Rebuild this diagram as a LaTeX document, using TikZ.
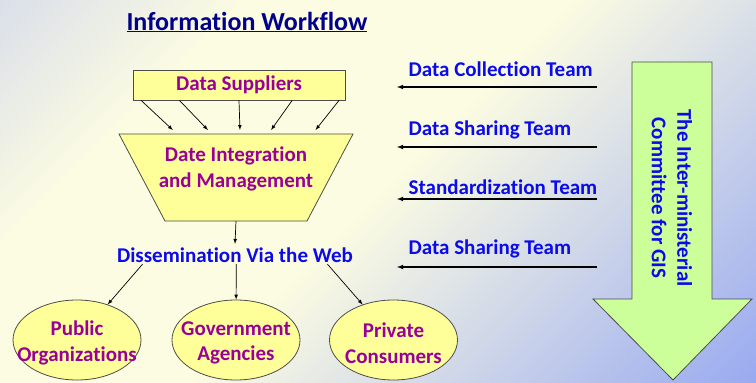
\documentclass[tikz,border=0pt]{standalone}
\usepackage{fontspec}
\setmainfont{Carlito}[Ligatures=NoCommon]
\usetikzlibrary{shapes.geometric,calc}
\definecolor{bgtl}{RGB}{186,196,242}
\definecolor{bgmid}{RGB}{252,252,226}
\definecolor{bgbr}{RGB}{112,136,246}
\definecolor{boxyel}{RGB}{255,255,153}
\definecolor{arrgreen}{RGB}{204,255,153}
\definecolor{txtpurp}{RGB}{153,0,153}
\definecolor{txtblue}{RGB}{10,10,235}
\definecolor{titleblue}{RGB}{0,0,140}
\pgfdeclarehorizontalshading{slidebg}{100bp}{color(0bp)=(bgtl); color(30bp)=(bgmid); color(50bp)=(bgmid); color(100bp)=(bgbr)}
\tikzset{
  box/.style={draw=black!70, fill=boxyel, line width=0.8pt},
  purp/.style={text=txtpurp, font=\fontsize{21}{25.5}\selectfont\bfseries, align=center},
  team/.style={text=txtblue, font=\fontsize{21}{25.5}\selectfont\bfseries},
  org/.style={box, ellipse, minimum width=128pt, minimum height=80pt, inner sep=0pt}
}
\begin{document}
\begin{tikzpicture}[>=latex, line width=0.7pt]
  \useasboundingbox (0,0) rectangle (756pt,-383pt);
  \fill[shading=slidebg, shading angle=-45] (0,0) rectangle (756pt,-383pt);
  % title
  \draw (247pt, -22pt)node[text=titleblue, font=\fontsize{26}{30}\selectfont\bfseries](title){\underline{Information Workflow}};
  % suppliers and funnel
  \draw (239pt, -85pt)node[box, purp, minimum width=212pt, minimum height=30pt, inner sep=0pt](ds){Data Suppliers};
  \draw[box] (119pt,-134pt) coordinate (tl) -- (353pt,-134pt) coordinate (tr)
    -- (307pt,-221pt) coordinate (br) -- (165pt,-221pt) coordinate (bl) -- cycle;
  \draw (236pt, -169pt)node[purp](dim){Date Integration\\and Management};
  \foreach \a/\b in {0.04/0.23, 0.22/0.38, 0.5/0.517, 0.75/0.65, 0.97/0.84}
    \draw[->] ($(ds.south west)!\a!(ds.south east)$) -- ($(tl)!\b!(tr)+(0,4pt)$);
  % web
  \draw (235pt, -255pt)node[team](web){Dissemination Via the Web};
  \draw[->] ($(bl)!0.5!(br)$) -- (web.north);
  \draw (77pt, -340pt)node[org](po){};
  \draw (236pt, -340pt)node[org](ga){};
  \draw (393.5pt, -340pt)node[org](pc){};
  \draw ($(po)+(0,-3pt)$)node[purp](potxt){Public\\Organizations};
  \draw ($(ga)+(0,-3pt)$)node[purp](gatxt){Government\\Agencies};
  \draw ($(pc)+(0,-3pt)$)node[purp](pctxt){Private\\Consumers};
  \draw[->] ($(web.south west)!0.12!(web.south east)+(0,2pt)$) -- (po);
  \draw[->] ($(web.south west)!0.505!(web.south east)+(0,2pt)$) -- (ga);
  \draw[->] ($(web.south west)!0.88!(web.south east)+(0,2pt)$) -- (pc);
  % teams
  \foreach \i/\t/\ty/\ay in {1/Data Collection Team/69/87, 2/Data Sharing Team/130/147,
      3/Standardization Team/187/199, 4/Data Sharing Team/249/267}{
    \draw (405pt, -\ty pt)node[team, anchor=west](t\i){\t};
    \coordinate (s\i) at (597pt, -\ay pt);
    \coordinate (e\i) at (397pt, -\ay pt);
    \draw[->, line width=1.1pt] (s\i) -- (e\i);
  }
  % committee arrow
  \draw[draw=black!70, fill=arrgreen, line width=0.8pt] (632pt,-62pt) -- (712pt,-62pt) -- (712pt,-299pt)
    -- (752pt,-299pt) -- (673pt,-380pt) -- (593pt,-299pt) -- (632pt,-299pt) -- cycle;
  \draw (672pt, -198pt)node[team, rotate=-90, align=center](igc){The Inter-ministerial\\Committee for GIS};
\end{tikzpicture}
\end{document}
